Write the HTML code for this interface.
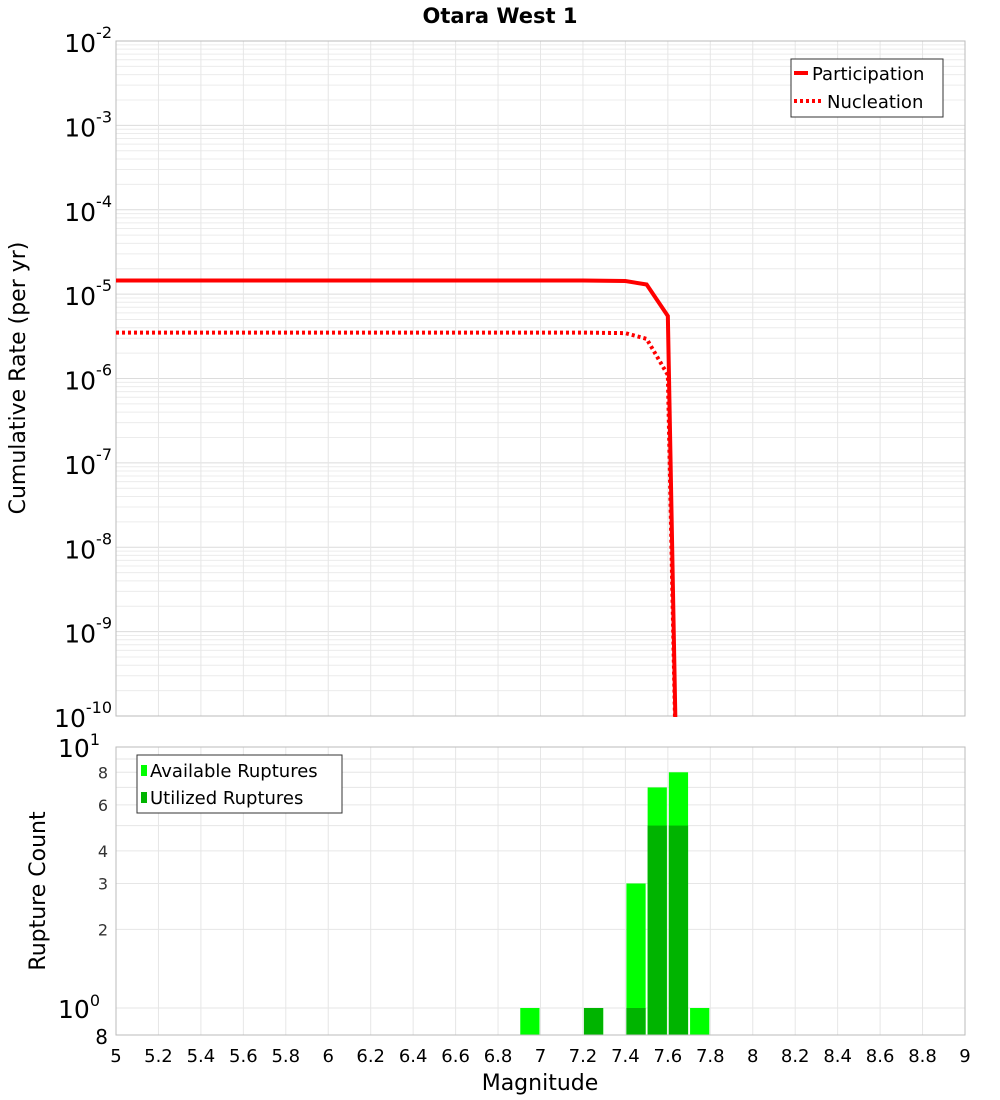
<!DOCTYPE html>
<html><head><meta charset="utf-8"><style>
body{margin:0;background:#fff;}
svg{display:block;}
#c{font-family:"DejaVu Sans","Liberation Sans",sans-serif;}
</style></head><body>
<svg id="c" width="1000" height="1100" xmlns="http://www.w3.org/2000/svg"></svg>
<script>
const partMags=[5.0,7.2,7.4,7.5,7.6,7.65];
const partRates=[1.45e-5,1.45e-5,1.43e-5,1.3e-5,5.5e-6,1e-12];
const nuclMags=[5.0,7.2,7.4,7.5,7.6,7.65];
const nuclRates=[3.5e-6,3.5e-6,3.45e-6,2.95e-6,1.1e-6,1e-12];
const binMags=[6.95,7.25,7.45,7.55,7.65,7.75];
const availCounts=[1,1,3,7,8,1];
const utilCounts=[0,1,1,5,5,0];
const xTicks=["5","5.2","5.4","5.6","5.8","6","6.2","6.4","6.6","6.8","7","7.2","7.4","7.6","7.8","8","8.2","8.4","8.6","8.8","9"];
const topExps=[-2,-3,-4,-5,-6,-7,-8,-9,-10];
const botTicks=[["8",8],["6",6],["4",4],["3",3],["2",2]];

const S=document.getElementById('c'),NS="http://www.w3.org/2000/svg";
function el(t,a,p){const e=document.createElementNS(NS,t);for(const k in a)e.setAttribute(k,a[k]);(p||S).appendChild(e);return e;}
const X0=116,X1=965;
const x=m=>X0+(m-5)/4*(X1-X0);
const T0=41,T1=716;
const yT=v=>T0+(-2-Math.log10(v))/8*(T1-T0);
const B0=747,B1=1035,DEC=261;
const yB=v=>B0+(1-Math.log10(v))*DEC;

let g=el('g',{});


for(let d=-10;d<-2;d++)for(let k=1;k<10;k++){const yy=yT(k*Math.pow(10,d));el('line',{x1:X0,x2:X1,y1:yy,y2:yy,stroke:k==1?'#dcdcdc':'#ececec','stroke-width':1},g);}
xTicks.forEach(t=>{const xx=x(+t);el('line',{x1:xx,x2:xx,y1:T0,y2:T1,stroke:'#e6e6e6'},g);});
let r=el('rect',{x:X0,y:T0,width:X1-X0,height:T1-T0,fill:'none',stroke:'#bbb'});



g=el('g',{});


for(let k=1;k<=10;k++){const yy=yB(k);el('line',{x1:X0,x2:X1,y1:yy,y2:yy,stroke:'#e6e6e6'},g);}
xTicks.forEach(t=>{const xx=x(+t);el('line',{x1:xx,x2:xx,y1:B0,y2:B1,stroke:'#e6e6e6'},g);});

const bw=x(5.1)-x(5);
binMags.forEach((m,i)=>{
 let b=el('rect',{x:x(m-0.05)+1,y:yB(availCounts[i]),width:bw-2,height:B1-yB(availCounts[i]),fill:'#00ff00'});
 
 
 if(utilCounts[i]>0){let u=el('rect',{x:x(m-0.05)+1,y:yB(utilCounts[i]),width:bw-2,height:B1-yB(utilCounts[i]),fill:'#00b400'});
 
 }
});
r=el('rect',{x:X0,y:B0,width:X1-X0,height:B1-B0,fill:'none',stroke:'#bbb'});



el('clipPath',{id:'cp'}).appendChild(el('rect',{x:X0,y:T0,width:X1-X0,height:T1-T0+1}));
function line(ms,vs,dash,name){const p=el('polyline',{points:ms.map((m,i)=>x(m)+','+yT(vs[i])).join(' '),fill:'none',stroke:'#ff0000','stroke-width':4,'clip-path':'url(#cp)'});if(dash)p.setAttribute('stroke-dasharray','3,3');

}
line(partMags,partRates,false,'participation-line');
line(nuclMags,nuclRates,true,'nucleation-line');

topExps.forEach(e=>{const yy=yT(Math.pow(10,e));const t=el('text',{x:112,y:yy+11,'font-size':25,'text-anchor':'end'});t.textContent='10';const s=el('tspan',{dy:-14,'font-size':16});s.textContent=e;t.appendChild(s);

});
botTicks.forEach(b=>{const t=el('text',{x:108,y:yB(b[1])+6,'font-size':16,'text-anchor':'end',fill:'#333'});t.textContent=b[0];

});
[[10,'1'],[1,'0']].forEach(b=>{const t=el('text',{x:100,y:yB(b[0])+10,'font-size':25,'text-anchor':'end'});t.textContent='10';const s=el('tspan',{dy:-12,'font-size':16});s.textContent=b[1];t.appendChild(s);

});
let t8=el('text',{x:108,y:1044,'font-size':20,'text-anchor':'end'});t8.textContent='8';


xTicks.forEach(t=>{const e=el('text',{x:x(+t),y:1062,'font-size':18,'text-anchor':'middle'});e.textContent=t;

});
</script>
<svg style="position:absolute;left:0;top:0;font-family:'DejaVu Sans','Liberation Sans',sans-serif" width="1000" height="1100" xmlns="http://www.w3.org/2000/svg">
<text x="500" y="23" font-size="21" font-weight="bold" text-anchor="middle">Otara West 1</text>
<text transform="translate(25,378) rotate(-90)" font-size="22" text-anchor="middle">Cumulative Rate (per yr)</text>
<text transform="translate(45,891) rotate(-90)" font-size="22" text-anchor="middle">Rupture Count</text>
<text x="540" y="1090" font-size="22" text-anchor="middle">Magnitude</text>
<g font-size="18">
<rect x="791" y="59" width="152" height="58" fill="#fff" stroke="#333"/>
<line x1="794" y1="73" x2="808" y2="73" stroke="#f00" stroke-width="4"/>
<text x="812" y="80">Participation</text>
<line x1="794" y1="101" x2="822" y2="101" stroke="#f00" stroke-width="4" stroke-dasharray="3,3"/>
<text x="827" y="108">Nucleation</text>
</g>
<g font-size="18">
<rect x="137" y="755" width="205" height="58" fill="#fff" stroke="#333"/>
<rect x="141" y="765" width="6" height="11" fill="#00ff00"/>
<text x="150" y="777">Available Ruptures</text>
<rect x="141" y="792" width="6" height="11" fill="#00b400"/>
<text x="150" y="804">Utilized Ruptures</text>
</g>
</svg>
</body></html>
